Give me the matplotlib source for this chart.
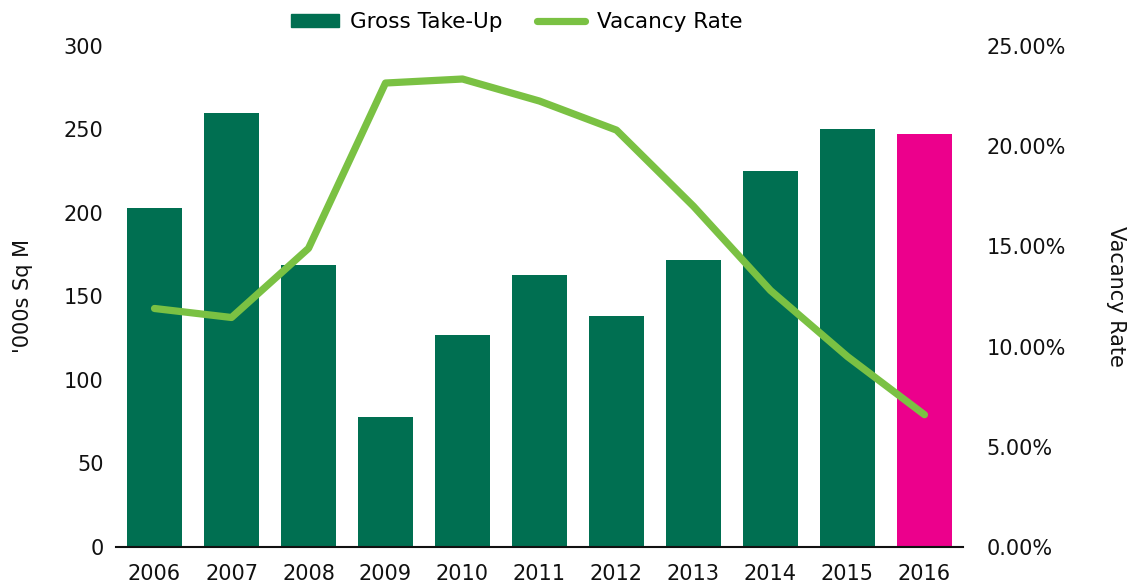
import numpy as np
import matplotlib
matplotlib.use("Agg")
import matplotlib.pyplot as plt
from matplotlib.patches import Patch
from matplotlib.lines import Line2D
from matplotlib.ticker import FuncFormatter

plt.rcParams['font.family'] = ['DejaVu Sans']

years = ['2006', '2007', '2008', '2009', '2010', '2011',
         '2012', '2013', '2014', '2015', '2016']
take_up = [203, 260, 169, 78, 127, 163, 138, 172, 225, 250, 247]
vacancy = [11.9, 11.45, 14.9, 23.15, 23.35, 22.25, 20.8, 17.0, 12.8, 9.5, 6.6]

bar_green = '#006f51'
pink = '#ec008c'
line_green = '#7ac143'

fig = plt.figure(figsize=(11.43, 5.86), dpi=100)
ax = fig.add_axes([0.1015, 0.0666, 0.741, 0.855])
ax2 = ax.twinx()

x = np.arange(len(years))
colors = [bar_green] * (len(years) - 1) + [pink]
ax.bar(x, take_up, width=0.71, color=colors, zorder=2)
ax2.plot(x, vacancy, color=line_green, linewidth=5.2,
         solid_capstyle='round', solid_joinstyle='round', zorder=3)

ax.set_xlim(-0.5, len(years) - 0.5)
ax.set_ylim(0, 300)
ax.set_yticks(range(0, 301, 50))
ax2.set_ylim(0, 25)
ax2.set_yticks(range(0, 26, 5))
ax2.yaxis.set_major_formatter(FuncFormatter(lambda v, p: f"{v:.2f}%"))

ax.set_xticks(x)
ax.set_xticklabels(years)

for a in (ax, ax2):
    for s in a.spines.values():
        s.set_visible(False)
    a.tick_params(length=0, labelsize=15, colors='#111111')
ax.spines['bottom'].set_visible(True)
ax.spines['bottom'].set_linewidth(1.5)
ax.spines['bottom'].set_color('#111111')
ax.tick_params(axis='x', pad=12)
ax.tick_params(axis='y', pad=9)
ax2.tick_params(axis='y', pad=17)

ax.set_ylabel("'000s Sq M", fontsize=15, labelpad=22, color='#111111')
ax2.set_ylabel("Vacancy Rate", fontsize=15, rotation=270, labelpad=43,
               color='#111111')

handles = [Patch(color=bar_green, label='Gross Take-Up'),
           Line2D([0], [0], color=line_green, linewidth=5.2,
                  solid_capstyle='round', label='Vacancy Rate')]
fig.legend(handles=handles, loc='center', bbox_to_anchor=(0.452, 0.962),
           ncol=2, frameon=False, fontsize=15.5, handlelength=2.2,
           handleheight=0.55, columnspacing=1.6, handletextpad=0.55)

fig.savefig("out.png", dpi=100)
